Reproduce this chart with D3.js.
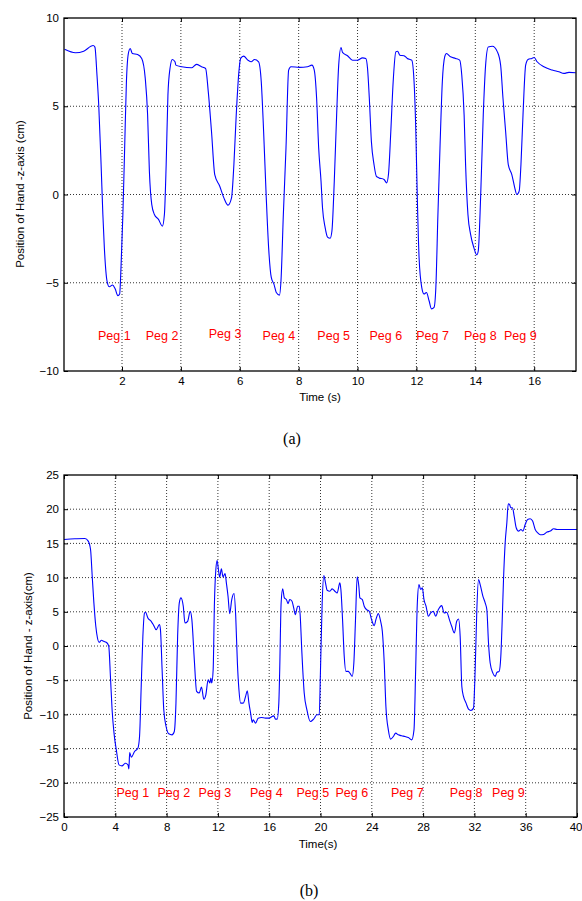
<!DOCTYPE html>
<html>
<head>
<meta charset="utf-8">
<script src="https://cdn.jsdelivr.net/npm/d3@7"></script>
<style>
  body { margin: 0; background: #fff; }
  svg { display: block; }
  .tick text { font-family: "Liberation Sans", Arial, sans-serif; font-size: 11.5px; fill: #000; }
</style>
</head>
<body>
<svg width="582" height="901"></svg>
<script>
// panel (a): time (s) and hand position (cm)
var timeA = [0.05,0.42,0.70,1.02,1.08,1.15,1.21,1.29,1.35,1.40,1.49,1.57,1.68,1.77,1.86,1.92,1.97,2.03,2.09,2.15,2.21,2.28,2.35,2.53,2.67,2.79,2.87,2.93,3.01,3.10,3.24,3.37,3.44,3.50,3.56,3.63,3.71,3.80,3.83,4.03,4.36,4.53,4.70,4.84,4.93,5.04,5.15,5.32,5.46,5.60,5.72,5.80,5.88,5.97,6.03,6.13,6.28,6.39,6.50,6.64,6.73,6.81,6.90,6.98,7.07,7.16,7.24,7.35,7.40,7.48,7.57,7.66,7.74,8.02,8.30,8.45,8.53,8.61,8.68,8.76,8.81,8.90,8.98,9.07,9.13,9.21,9.29,9.36,9.44,9.49,9.66,9.83,10.0,10.17,10.28,10.34,10.40,10.47,10.56,10.64,10.73,10.90,10.99,11.05,11.13,11.21,11.30,11.36,11.44,11.58,11.69,11.84,11.92,11.98,12.03,12.09,12.18,12.26,12.34,12.43,12.51,12.60,12.66,12.73,12.80,12.88,12.96,13.02,13.16,13.33,13.47,13.54,13.62,13.67,13.75,13.84,13.95,14.05,14.10,14.18,14.27,14.35,14.44,14.58,14.75,14.86,14.94,15.03,15.12,15.24,15.34,15.41,15.49,15.55,15.62,15.71,15.79,15.92,16.0,16.10,16.33,16.61,16.84,17.01,17.18,17.41];
var posA = [8.23,8.03,8.12,8.44,8.35,6.77,5.06,1.69,-1.13,-3.0,-4.89,-5.23,-5.13,-5.36,-5.73,-5.64,-3.95,-1.13,2.63,6.39,7.93,8.27,7.99,7.93,7.71,6.58,4.51,1.32,-0.56,-1.13,-1.41,-1.79,-1.13,1.69,5.64,7.14,7.65,7.52,7.33,7.24,7.18,7.37,7.24,7.14,5.83,3.57,1.13,0.47,-0.19,-0.60,-0.19,1.69,4.51,6.95,7.71,7.84,7.61,7.52,7.65,7.52,6.39,3.57,-0.19,-3.01,-4.70,-5.08,-5.55,-5.70,-4.89,-1.13,2.63,7.05,7.24,7.20,7.24,7.33,7.05,5.45,2.63,0.75,-0.75,-1.88,-2.41,-2.48,-2.07,0.75,4.51,7.33,8.33,8.05,7.86,7.61,7.61,7.74,7.71,7.14,5.45,3.01,1.69,1.03,0.94,0.85,0.66,1.13,3.57,6.39,8.08,8.12,7.89,7.86,7.71,7.61,6.39,3.57,-0.19,-3.57,-5.26,-5.64,-5.55,-6.02,-6.48,-6.39,-5.26,-1.13,2.63,6.39,7.80,7.99,7.80,7.71,7.61,6.77,4.51,1.69,-1.13,-2.26,-3.01,-3.42,-3.20,-0.19,4.51,7.33,8.36,8.40,8.08,7.33,5.45,3.57,1.69,1.13,0.38,0.00,0.19,1.69,4.51,7.33,7.65,7.71,7.76,7.52,7.24,7.05,6.95,6.86,6.92,6.90];

// panel (b)
var timeB = [0.0,0.85,1.63,1.89,2.07,2.20,2.33,2.48,2.61,2.74,2.92,3.10,3.36,3.49,3.62,3.75,3.90,4.08,4.29,4.52,4.78,4.99,5.06,5.12,5.25,5.50,5.76,5.89,6.02,6.15,6.28,6.36,6.54,6.80,7.00,7.18,7.44,7.52,7.65,7.78,7.96,8.17,8.42,8.60,8.73,8.86,8.99,9.12,9.30,9.43,9.64,9.84,9.97,10.16,10.34,10.54,10.72,10.90,11.06,11.24,11.37,11.45,11.52,11.63,11.73,11.84,11.94,12.04,12.14,12.27,12.40,12.56,12.66,12.79,12.92,13.08,13.26,13.39,13.52,13.64,13.77,13.98,14.16,14.29,14.42,14.55,14.68,14.75,14.94,15.14,15.40,15.71,15.97,16.36,16.49,16.62,16.75,16.82,16.93,17.05,17.18,17.34,17.47,17.60,17.78,17.91,18.04,18.22,18.35,18.42,18.55,18.73,18.94,19.20,19.46,19.72,19.90,20.0,20.13,20.26,20.39,20.52,20.73,20.91,21.12,21.30,21.51,21.59,21.72,21.85,21.98,22.16,22.29,22.47,22.60,22.73,22.86,22.99,23.07,23.26,23.41,23.59,23.80,23.98,24.19,24.32,24.51,24.69,24.82,24.97,25.10,25.29,25.47,25.68,25.86,26.07,26.33,26.59,26.85,27.11,27.29,27.42,27.55,27.68,27.81,27.94,28.07,28.23,28.41,28.59,28.80,28.98,29.19,29.45,29.64,29.84,30.05,30.23,30.44,30.62,30.76,30.89,31.02,31.15,31.35,31.54,31.72,31.93,32.06,32.19,32.32,32.45,32.66,32.84,32.97,33.10,33.23,33.44,33.63,33.75,33.93,34.06,34.17,34.27,34.40,34.53,34.64,34.74,34.84,34.97,35.10,35.26,35.44,35.63,35.78,35.96,36.15,36.35,36.54,36.74,36.93,37.14,37.40,37.66,37.92,38.18,38.44,38.96,39.48,40.0];
var posB = [15.58,15.67,15.72,15.33,14.11,10.21,6.30,2.88,1.17,0.54,0.83,0.68,0.44,-0.05,-4.44,-9.33,-12.74,-15.19,-17.38,-17.53,-17.14,-17.38,-17.97,-15.58,-16.26,-15.43,-14.94,-13.23,-5.91,1.42,4.83,4.93,4.10,3.61,2.98,2.39,3.12,2.39,-3.47,-9.33,-11.77,-12.84,-12.99,-12.50,-8.35,1.42,6.30,7.03,5.81,3.37,3.61,5.08,3.86,-2.00,-6.64,-6.88,-6.01,-7.76,-7.13,-4.93,-5.42,-4.69,-5.42,-3.47,6.30,11.18,12.50,11.18,10.06,11.28,10.11,10.60,9.23,7.28,4.74,6.79,7.67,4.35,-2.49,-6.40,-8.35,-8.35,-7.37,-6.54,-8.35,-9.81,-11.18,-10.79,-11.28,-10.55,-10.45,-10.55,-10.55,-10.21,-10.69,-10.69,-8.35,-3.47,6.30,8.35,7.03,6.79,6.20,6.79,6.54,5.57,4.59,5.81,5.81,4.35,-1.03,-6.88,-9.33,-11.04,-10.69,-10.06,-10.06,-3.47,6.30,10.30,9.23,8.15,8.01,8.35,8.01,7.76,9.23,8.25,3.86,-1.51,-3.71,-3.71,-3.96,-4.44,-2.49,3.86,10.11,8.74,7.03,6.79,5.81,5.32,5.08,3.86,2.98,3.86,4.74,3.61,2.15,-2.49,-8.84,-12.26,-13.62,-13.23,-12.74,-12.99,-13.13,-13.23,-13.38,-13.72,-12.26,-3.47,6.30,8.98,8.25,8.50,6.79,5.81,4.35,4.83,5.08,4.35,5.32,5.91,4.83,4.93,3.86,2.88,1.90,3.61,3.95,1.42,-5.91,-7.37,-8.35,-9.23,-9.42,-9.08,-3.47,5.32,9.72,8.98,7.28,6.30,5.32,0.44,-2.49,-3.96,-4.44,-3.86,-3.71,-1.51,3.86,9.72,15.09,18.02,20.80,20.70,20.21,20.21,18.99,17.29,16.80,17.04,16.80,17.77,18.51,18.60,18.26,17.04,16.55,16.26,16.31,16.65,16.80,17.14,17.04,17.04,17.04,17.04];

var pegLabels = ['Peg 1','Peg 2','Peg 3','Peg 4','Peg 5','Peg 6','Peg 7','Peg 8','Peg 9'];
var pegTimeA = [1.74,3.36,5.50,7.33,9.19,10.96,12.55,14.17,15.53];
var pegPosA = [-8,-8,-7.9,-8,-8,-8,-8,-8,-8];
var pegTimeB = [5.37,8.56,11.77,15.78,19.40,22.44,26.77,31.36,34.65];
var pegPosB = [-21.5,-21.5,-21.5,-21.5,-21.5,-21.5,-21.5,-21.5,-21.5];

var xTicksA = [2,4,6,8,10,12,14,16];
var yTicksA = [-10,-5,0,5,10];
var xTicksB = [0,4,8,12,16,20,24,28,32,36,40];
var yTicksB = [-25,-20,-15,-10,-5,0,5,10,15,20,25];

var svg = d3.select('svg');
var font = '"Liberation Sans", Arial, sans-serif';

function panel(o) {
  var x = d3.scaleLinear().domain(o.xDomain).range([o.left, o.right]);
  var y = d3.scaleLinear().domain(o.yDomain).range([o.bottom, o.top]);
  var g = svg.append('g');

  // dotted grid
  g.selectAll('.gx').data(o.xTicks.filter(function(d){ return d > o.xDomain[0] && d < o.xDomain[1]; }))
    .enter().append('line')
    .attr('x1', function(d){ return x(d); }).attr('x2', function(d){ return x(d); })
    .attr('y1', o.top).attr('y2', o.bottom)
    .attr('stroke', '#000').attr('stroke-width', 0.8).attr('stroke-dasharray', '1,2');
  g.selectAll('.gy').data(o.yTicks.filter(function(d){ return d > o.yDomain[0] && d < o.yDomain[1]; }))
    .enter().append('line')
    .attr('x1', o.left).attr('x2', o.right)
    .attr('y1', function(d){ return y(d); }).attr('y2', function(d){ return y(d); })
    .attr('stroke', '#000').attr('stroke-width', 0.8).attr('stroke-dasharray', '1,2');

  // curve
  var line = d3.line().curve(d3.curveMonotoneX)
    .x(function(d){ return x(d[0]); }).y(function(d){ return y(d[1]); });
  g.append('path').datum(d3.zip(o.t, o.v))
    .attr('d', line).attr('fill', 'none')
    .attr('stroke', '#0000ff').attr('stroke-width', 1.1);

  // peg labels
  g.selectAll('.peg').data(d3.zip(o.pegT, o.pegV, pegLabels))
    .enter().append('text')
    .attr('x', function(d){ return x(d[0]); })
    .attr('y', function(d){ return y(d[1]); })
    .attr('dy', '0.35em')
    .attr('text-anchor', 'middle')
    .attr('font-family', font).attr('font-size', 12.5)
    .attr('fill', '#ff0000')
    .text(function(d){ return d[2]; });

  // axes with inward ticks
  var bx = g.append('g').attr('transform', 'translate(0,' + o.bottom + ')')
    .call(d3.axisBottom(x).tickValues(o.xTicks).tickSizeInner(-4).tickSizeOuter(0).tickPadding(6).tickFormat(d3.format('d')));
  // last label sits against the page edge, as in the source figure
  bx.selectAll('.tick text').filter(function(d){ return x(d) > 570; })
    .attr('text-anchor', 'end').attr('x', 582 - o.right);
  g.append('g').attr('transform', 'translate(0,' + o.top + ')')
    .call(d3.axisTop(x).tickValues(o.xTicks).tickSizeInner(-4).tickSizeOuter(0).tickFormat(''));
  g.append('g').attr('transform', 'translate(' + o.left + ',0)')
    .call(d3.axisLeft(y).tickValues(o.yTicks).tickSizeInner(-4).tickSizeOuter(0).tickPadding(5).tickFormat(d3.format('d')));
  g.append('g').attr('transform', 'translate(' + o.right + ',0)')
    .call(d3.axisRight(y).tickValues(o.yTicks).tickSizeInner(-4).tickSizeOuter(0).tickFormat(''));
  g.selectAll('.domain').remove();
  g.selectAll('.tick line').attr('stroke', '#000').attr('stroke-width', 1);

  g.append('rect')
    .attr('x', o.left).attr('y', o.top)
    .attr('width', o.right - o.left).attr('height', o.bottom - o.top)
    .attr('fill', 'none').attr('stroke', '#000').attr('stroke-width', 1.3);

  // axis titles
  g.append('text')
    .attr('x', o.xLabelX).attr('y', o.xLabelY)
    .attr('text-anchor', 'middle').attr('dy', '0.35em')
    .attr('font-family', font).attr('font-size', 11.5)
    .text(o.xLabel);
  g.append('text')
    .attr('transform', 'translate(' + o.yLabelX + ',' + o.yLabelY + ') rotate(-90)')
    .attr('text-anchor', 'middle').attr('dy', '0.35em')
    .attr('font-family', font).attr('font-size', 11.5)
    .text(o.yLabel);
  g.append('text')
    .attr('x', o.capX).attr('y', o.capY)
    .attr('text-anchor', 'middle').attr('dy', '0.35em')
    .attr('font-family', '"Liberation Serif", "Times New Roman", serif').attr('font-size', 16)
    .text(o.caption);
}

panel({
  left: 64, right: 576, top: 18, bottom: 371,
  xDomain: [0.03, 17.42], yDomain: [-10, 10],
  xTicks: xTicksA, yTicks: yTicksA,
  t: timeA, v: posA, pegT: pegTimeA, pegV: pegPosA,
  xLabel: 'Time (s)', xLabelX: 320, xLabelY: 397,
  yLabel: 'Position of Hand -z-axis (cm)', yLabelX: 20, yLabelY: 194,
  caption: '(a)', capX: 292, capY: 438
});

panel({
  left: 64, right: 577, top: 475, bottom: 817,
  xDomain: [0, 40], yDomain: [-25, 25],
  xTicks: xTicksB, yTicks: yTicksB,
  t: timeB, v: posB, pegT: pegTimeB, pegV: pegPosB,
  xLabel: 'Time(s)', xLabelX: 318, xLabelY: 844,
  yLabel: 'Position of Hand - z-axis(cm)', yLabelX: 28, yLabelY: 646,
  caption: '(b)', capX: 309, capY: 890
});
</script>
</body>
</html>
